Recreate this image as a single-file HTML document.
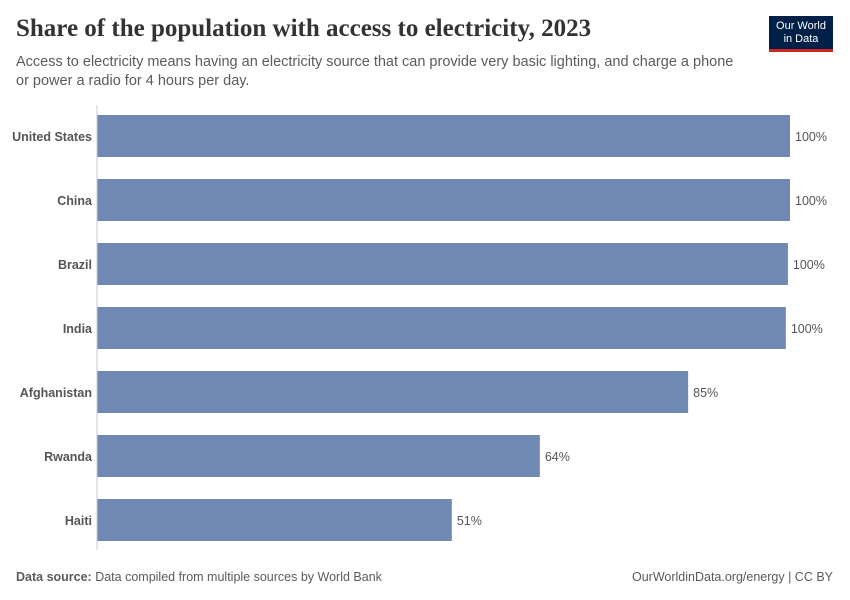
<!DOCTYPE html>
<html><head><meta charset="utf-8"><style>
body{margin:0;width:850px;height:600px;background:#fff;font-family:"Liberation Sans",sans-serif;position:relative;overflow:hidden}
.t{position:absolute;white-space:nowrap}
</style></head><body>
<div class="t" style="left:16px;top:15px;font-family:'Liberation Serif',serif;font-size:25px;font-weight:bold;color:#333">Share of the population with access to electricity, 2023</div>
<div class="t" style="left:16px;top:53px;font-size:14.5px;line-height:19px;color:#5b5b5b">Access to electricity means having an electricity source that can provide very basic lighting, and charge a phone<br>or power a radio for 4 hours per day.</div>
<div style="position:absolute;left:769px;top:16px;width:64px;height:36px;background:#002147;border-bottom:3px solid #ce261e;box-sizing:border-box;color:#fff;font-size:11px;line-height:13px;text-align:center;padding-top:4px">Our World<br>in Data</div>
<svg id="chart" width="850" height="600" style="position:absolute;left:0;top:0"></svg>
<div class="t" style="left:16px;top:570px;font-size:12.5px;color:#5b5b5b"><b>Data source:</b> Data compiled from multiple sources by World Bank</div>
<div class="t" style="right:17px;top:570px;font-size:12.5px;color:#5b5b5b">OurWorldinData.org/energy | CC BY</div>
<script>
const categories=["United States","China","Brazil","India","Afghanistan","Rwanda","Haiti"];
const values=[100,100,99.7,99.4,85.3,63.9,51.2];
const labels=["100%","100%","100%","100%","85%","64%","51%"];
const svg=document.getElementById('chart');
const NS="http://www.w3.org/2000/svg";
const x0=97,x1=790;
function xs(v){return x0+(x1-x0)*v/100;}
function ys(i){return 115+i*64;}
const ax=document.createElementNS(NS,'line');


ax.setAttribute('x1',x0);ax.setAttribute('x2',x0);ax.setAttribute('y1',105);ax.setAttribute('y2',550);
ax.setAttribute('stroke','#ccc');ax.setAttribute('stroke-width','1');
svg.appendChild(ax);
categories.forEach((c,i)=>{
 const r=document.createElementNS(NS,'rect');
 
 
 r.setAttribute('x',x0+0.5);r.setAttribute('y',ys(i));r.setAttribute('width',xs(values[i])-x0-0.5);r.setAttribute('height',42);
 r.setAttribute('fill','#6f89b2');
 svg.appendChild(r);
 const t=document.createElementNS(NS,'text');
 
 
 t.setAttribute('x',92);t.setAttribute('y',ys(i)+26);t.setAttribute('text-anchor','end');
 t.setAttribute('font-size','12.5');t.setAttribute('font-weight','bold');t.setAttribute('fill','#555');
 t.textContent=c;svg.appendChild(t);
 const v=document.createElementNS(NS,'text');
 
 
 v.setAttribute('x',xs(values[i])+5);v.setAttribute('y',ys(i)+26);
 v.setAttribute('font-size','12.5');v.setAttribute('fill','#555');
 v.textContent=labels[i];svg.appendChild(v);
});
</script>
</body></html>
